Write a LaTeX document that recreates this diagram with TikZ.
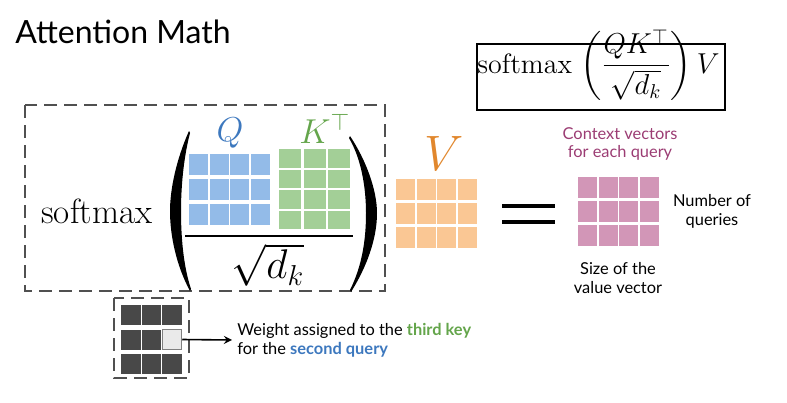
\documentclass[tikz,border=0pt]{standalone}
\usepackage{fontspec}
\usepackage{amsmath}
\newfontfamily\lato{Lato}
\definecolor{qcell}{RGB}{147,187,232}
\definecolor{kcell}{RGB}{163,207,151}
\definecolor{vcell}{RGB}{250,199,148}
\definecolor{ccell}{RGB}{210,150,183}
\definecolor{wcell}{RGB}{72,72,72}
\definecolor{wlight}{RGB}{234,234,234}
\definecolor{qtext}{RGB}{61,120,190}
\definecolor{ktext}{RGB}{100,165,75}
\definecolor{vtext}{RGB}{225,135,45}
\definecolor{ctext}{RGB}{155,60,115}
\definecolor{boxgray}{RGB}{80,80,80}
\tikzset{
    dashbox/.style={draw=boxgray, line width=1.3pt, dash pattern=on 6.5pt off 3.5pt},
    label/.style={inner sep=0, font=\lato\fontsize{8.2}{9.4}\selectfont, align=center}
}

\begin{document}
\begin{tikzpicture}[x=0.5pt, y=-0.5pt]
    \useasboundingbox (0, 0) rectangle (787, 402);
    \node [anchor=base west, inner sep=0] (title) at (15, 43) {\lato\fontsize{16}{19}\selectfont Attention Math};

    \node [draw, line width=1pt, minimum width=124pt, minimum height=33pt, inner sep=0] (topbox) at (601, 77) {};
    \node [anchor=base west, inner sep=0, font=\fontsize{14}{14}\selectfont] (topformula) at (477, 73) {$\mathrm{softmax}\;\biggl(\dfrac{QK^{\top}}{\sqrt{d_k}}\biggr)\,V$};

    \draw [dashbox] (25, 105) rectangle (385, 291);
    \node [anchor=base west, inner sep=0, font=\fontsize{17.5}{17.5}\selectfont] (softmax) at (41, 223) {$\mathrm{softmax}$};
    \fill (189, 131) .. controls (176, 160) and (170, 190) .. (170, 211)
        .. controls (170, 235) and (176, 265) .. (190, 291) -- (191, 289)
        .. controls (183, 265) and (181, 235) .. (181, 211)
        .. controls (181, 190) and (183, 160) .. (190, 133) -- cycle;
    \fill (350, 136) .. controls (366, 160) and (377, 190) .. (377, 213)
        .. controls (377, 240) and (366, 268) .. (351, 292) -- (350, 290)
        .. controls (362, 266) and (366, 240) .. (366, 213)
        .. controls (366, 190) and (362, 160) .. (349, 138) -- cycle;

    \node [anchor=base, inner sep=0, text=qtext, font=\fontsize{17}{17}\selectfont] (qlabel) at (230, 141) {$Q$};
    \foreach \i in {0,...,3}
        \foreach \j in {0,...,2}
            \fill [qcell] (189+\i*20.5, 154+\j*25) rectangle ++(19, 20.7);

    \node [anchor=base west, inner sep=0, text=ktext, font=\fontsize{17}{17}\selectfont] (klabel) at (299, 143) {$K^{\top}$};
    \foreach \i in {0,...,2}
        \foreach \j in {0,...,3}
            \fill [kcell] (279+\i*24.5, 149+\j*20.5) rectangle ++(22, 18.5);

    \draw [line width=0.6pt] (185, 236) -- (353, 236);
    \node [inner sep=0, font=\fontsize{20}{20}\selectfont] (sqrtdk) at (268, 265) {$\sqrt{d_k}$};

    \node [anchor=base west, inner sep=0, text=vtext, font=\fontsize{24}{24}\selectfont] (vlabel) at (424, 170) {$V$};
    \foreach \i in {0,...,3}
        \foreach \j in {0,...,2}
            \fill [vcell] (396+\i*20.6, 179+\j*24) rectangle ++(19, 21);

    \draw [line width=2pt] (502, 206) -- (555, 206);
    \draw [line width=2pt] (502, 222) -- (555, 222);

    \foreach \i in {0,...,3}
        \foreach \j in {0,...,2}
            \fill [ccell] (578+\i*20.6, 177+\j*24) rectangle ++(19, 21);
    \node [label, text=ctext] (context) at (620, 144) {Context vectors\\for each query};
    \node [label] (numq) at (712, 211) {Number of\\queries};
    \node [label] (sizev) at (618, 278) {Size of the\\value vector};

    \draw [dashbox] (114, 298) rectangle (189, 378);
    \foreach \i in {0,...,2}
        \foreach \j in {0,...,2}
            \fill [wcell] (121+\i*20.6, 305+\j*24.5) rectangle ++(19.5, 20);
    \node [draw=gray, fill=wlight, line width=0.5pt, minimum width=9.75pt, minimum height=10pt, inner sep=0] (wcell) at (172, 339.5) {};
    \node [label, align=left, anchor=west, inner sep=2.5pt] (weight) at (232, 340) {Weight assigned to the \textcolor{ktext}{\bfseries third key}\\for the \textcolor{qtext}{\bfseries second query}};
    \draw [-stealth, thick] (wcell.east) -- (weight.west);
\end{tikzpicture}
\end{document}
